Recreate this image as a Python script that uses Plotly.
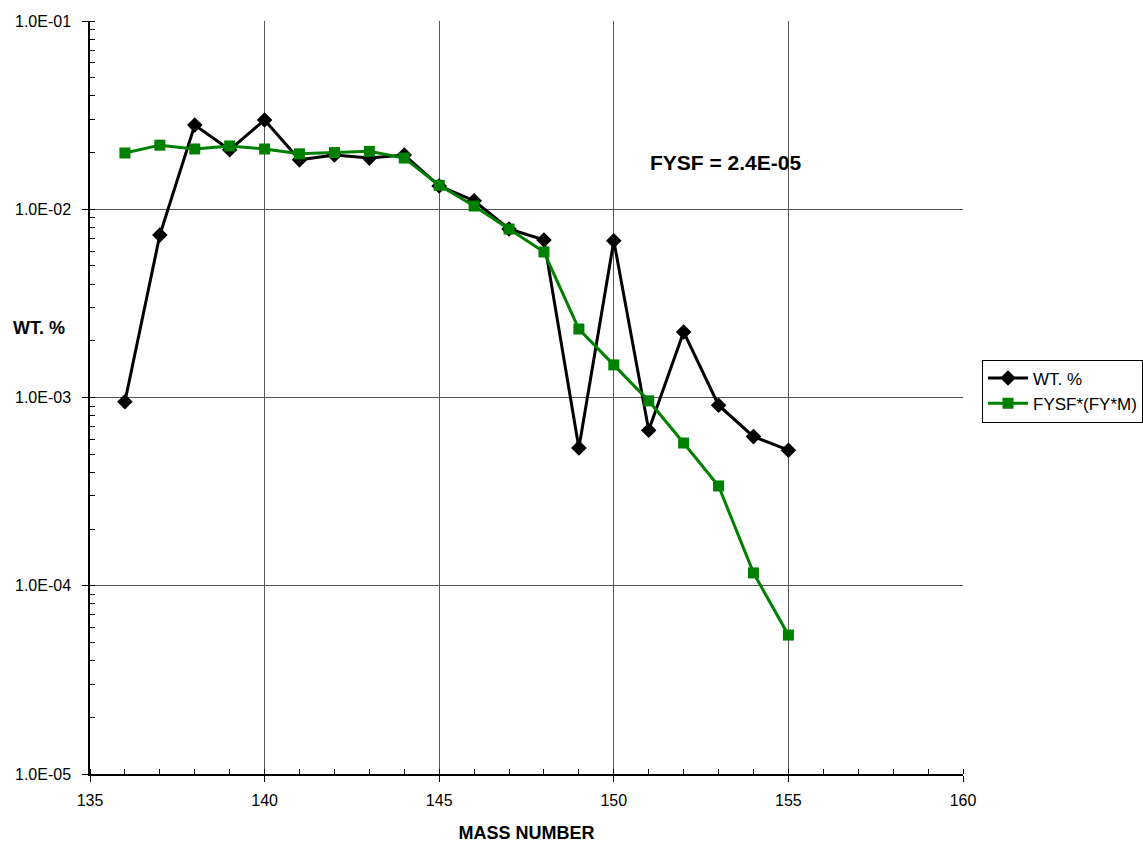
import plotly.graph_objects as go

mass = [136, 137, 138, 139, 140, 141, 142, 143, 144, 145, 146, 147, 148, 149, 150, 151, 152, 153, 154, 155]
wt_pct = [9.5e-4, 7.3e-3, 2.8e-2, 2.07e-2, 2.98e-2, 1.83e-2, 1.94e-2, 1.87e-2, 1.94e-2, 1.33e-2,
          1.11e-2, 7.85e-3, 6.87e-3, 5.4e-4, 6.8e-3, 6.7e-4, 2.23e-3, 9.1e-4, 6.2e-4, 5.25e-4]
fysf = [1.99e-2, 2.19e-2, 2.09e-2, 2.17e-2, 2.09e-2, 1.97e-2, 2.0e-2, 2.03e-2, 1.87e-2, 1.34e-2,
        1.04e-2, 7.85e-3, 5.93e-3, 2.31e-3, 1.49e-3, 9.6e-4, 5.73e-4, 3.39e-4, 1.17e-4, 5.47e-5]
y_tickvals = [1e-5, 1e-4, 1e-3, 1e-2, 1e-1]
y_ticktext = ["1.0E-05", "1.0E-04", "1.0E-03", "1.0E-02", "1.0E-01"]
annot_text = "FYSF = 2.4E-05"
x_title = "MASS NUMBER"
y_title = "WT. %"

FONT = "Liberation Sans, Arial, sans-serif"
W, H = 1143, 844
L, R, T, B = 90, 180, 21, 70
PW, PH = W - L - R, H - T - B

fig = go.Figure()
fig.add_trace(go.Scatter(
    x=mass, y=wt_pct, name="WT. %", mode="lines+markers",
    line=dict(color="black", width=3),
    marker=dict(symbol="diamond", size=12, color="black"),
))
fig.add_trace(go.Scatter(
    x=mass, y=fysf, name="FYSF*(FY*M)", mode="lines+markers",
    line=dict(color="#008000", width=3),
    marker=dict(symbol="square", size=11, color="#008000"),
))

fig.update_layout(
    width=W, height=H,
    margin=dict(l=L, r=R, t=T, b=B, autoexpand=False),
    paper_bgcolor="white", plot_bgcolor="white",
    font=dict(family=FONT, size=16, color="black"),
    legend=dict(
        xref="container", yref="container",
        x=982 / W, y=(H - 391) / H, xanchor="left", yanchor="middle",
        bordercolor="black", borderwidth=1, bgcolor="white",
        font=dict(size=17), tracegroupgap=0, itemwidth=40,
    ),
    annotations=[
        dict(x=153.2, y=-1.749, xref="x", yref="y", text="<b>" + annot_text + "</b>",
             showarrow=False, font=dict(size=21, family=FONT, color="black")),
        dict(x=(11 - L) / PW, y=(H - B - 328) / PH, xref="paper", yref="paper",
             text="<b>" + y_title + "</b>",
             showarrow=False, xanchor="left", yanchor="middle",
             font=dict(size=18, family=FONT, color="black")),
    ],
)

fig.update_xaxes(
    range=[135, 160], dtick=5, tick0=135, automargin=False,
    showline=True, linecolor="black", linewidth=1.5,
    ticks="outside", ticklen=6, tickcolor="black",
    showgrid=True, gridcolor="#555555", gridwidth=1,
    zeroline=False,
    minor=dict(dtick=1, ticks="inside", ticklen=5, tickcolor="black", showgrid=False),
    title=dict(text="<b>" + x_title + "</b>", font=dict(size=18), standoff=18),
    tickfont=dict(size=16), ticklabelstandoff=5,
)
fig.update_yaxes(
    type="log", range=[-5, -1], automargin=False,
    tickvals=y_tickvals, ticktext=y_ticktext,
    showline=True, linecolor="black", linewidth=1.5,
    ticks="outside", ticklen=6, tickcolor="black",
    showgrid=True, gridcolor="#555555", gridwidth=1,
    zeroline=False,
    minor=dict(dtick="D1", ticks="inside", ticklen=5, tickcolor="black", showgrid=False),
    tickfont=dict(size=16), ticklabelstandoff=8,
)

fig.write_html("out.html")
